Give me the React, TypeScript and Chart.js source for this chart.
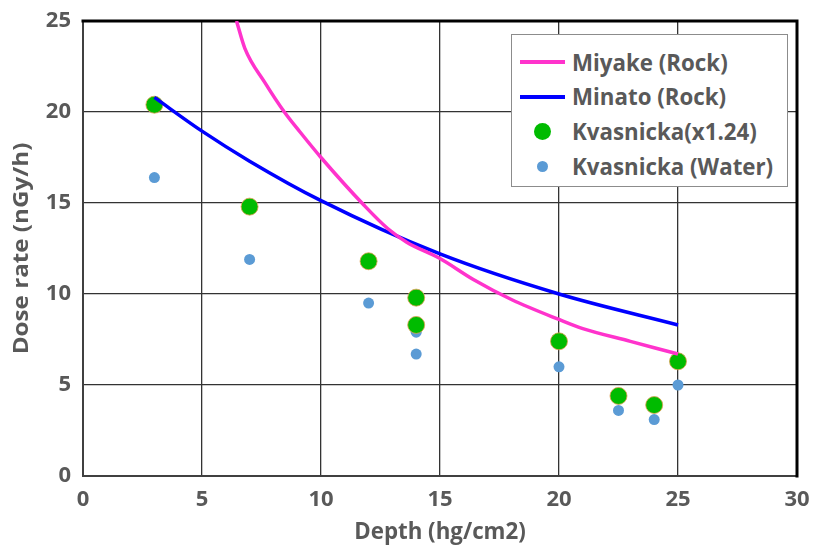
import React, { useEffect, useRef } from "react";
import { Chart, registerables } from "chart.js";

Chart.register(...registerables);

// Data
const miyakeX = [6.45, 6.8, 7.65, 8.46, 9.12, 10, 11.82, 12.8, 13.6, 15, 16.4, 18, 20, 21, 23, 25];
const miyakeY = [25, 23.5, 21.6, 20.0, 18.9, 17.5, 14.86, 13.6, 12.85, 11.95, 10.8, 9.7, 8.6, 8.1, 7.4, 6.7];

const minatoX = [3, 5, 7, 10, 15, 20, 25];
const minatoY = [20.8, 18.95, 17.3, 15.13, 12.2, 10.0, 8.3];

const kvasX = [3, 7, 12, 14, 14, 20, 22.5, 24, 25];
const kvasScaledY = [20.4, 14.8, 11.8, 9.8, 8.3, 7.4, 4.4, 3.9, 6.3];
const kvasWaterY = [16.4, 11.9, 9.5, 7.9, 6.7, 6.0, 3.6, 3.1, 5.0];

const xTicks = [0, 5, 10, 15, 20, 25, 30];
const yTicks = [0, 5, 10, 15, 20, 25];

const seriesNames = ["Miyake (Rock)", "Minato (Rock)", "Kvasnicka(x1.24)", "Kvasnicka (Water)"];
const xTitle = "Depth (hg/cm2)";
const yTitle = "Dose rate (nGy/h)";

const FONT = "'Open Sans', 'DejaVu Sans', sans-serif";
const TEXT = "#595959";
const PINK = "#ff33cc";
const BLUE = "#0000ff";
const GREEN = "#00bb00";
const WATER = "#5b9bd5";

const pts = (xs: number[], ys: number[]) => xs.map((x, i) => ({ x, y: ys[i] }));

const framePlugin = {
  id: "frameBorder",
  beforeDatasetsDraw(chart: any) {
    const { ctx, chartArea } = chart;
    const { left, right, top, bottom } = chartArea;
    ctx.save();
    ctx.lineCap = "square";
    ctx.strokeStyle = "#404040";
    ctx.lineWidth = 2;
    ctx.beginPath();
    ctx.moveTo(left, top);
    ctx.lineTo(left, bottom);
    ctx.lineTo(right, bottom);
    ctx.stroke();
    ctx.strokeStyle = "#000000";
    ctx.lineWidth = 3;
    ctx.beginPath();
    ctx.moveTo(left, top);
    ctx.lineTo(right, top);
    ctx.lineTo(right, bottom);
    ctx.stroke();
    ctx.restore();
  },
  afterDraw(chart: any) {
    const { ctx, chartArea } = chart;
    ctx.save();
    ctx.translate(22, (chartArea.top + chartArea.bottom) / 2);
    ctx.rotate(-Math.PI / 2);
    ctx.scale(1.1, 1);
    ctx.font = `bold 22px ${FONT}`;
    ctx.fillStyle = TEXT;
    ctx.textAlign = "center";
    ctx.textBaseline = "middle";
    ctx.fillText(yTitle, 0, 0);
    ctx.restore();
  },
};

export default function App() {
  const ref = useRef<HTMLCanvasElement | null>(null);

  useEffect(() => {
    if (!ref.current) return;
    const chart = new Chart(ref.current, {
      type: "scatter",
      data: {
        datasets: [
          {
            label: seriesNames[0],
            data: pts(miyakeX, miyakeY),
            showLine: true,
            borderColor: PINK,
            borderWidth: 3.5,
            pointRadius: 0,
            cubicInterpolationMode: "monotone",
            order: 0,
          } as any,
          {
            label: seriesNames[1],
            data: pts(minatoX, minatoY),
            showLine: true,
            borderColor: BLUE,
            borderWidth: 3.5,
            pointRadius: 0,
            cubicInterpolationMode: "monotone",
            order: 1,
          } as any,
          {
            label: seriesNames[2],
            data: pts(kvasX, kvasScaledY),
            showLine: false,
            backgroundColor: GREEN,
            borderColor: "#e0a050",
            borderWidth: 0.8,
            pointRadius: 8.5,
            order: 2,
          },
          {
            label: seriesNames[3],
            data: pts(kvasX, kvasWaterY),
            showLine: false,
            backgroundColor: WATER,
            borderWidth: 0,
            pointRadius: 5.5,
            order: 3,
          },
        ],
      },
      options: {
        animation: false,
        responsive: false,
        maintainAspectRatio: false,
        events: [],
        layout: { padding: { left: 0, right: 16, top: 21, bottom: 0 } },
        plugins: { legend: { display: false }, tooltip: { enabled: false } },
        scales: {
          x: {
            type: "linear",
            min: 0,
            max: 30,
            afterBuildTicks: (s: any) => {
              s.ticks = xTicks.map((v) => ({ value: v }));
            },
            afterFit: (s: any) => {
              s.height = 70;
              s.paddingLeft = 0;
              s.paddingRight = 0;
            },
            grid: { color: "#333333", lineWidth: 1.3, drawTicks: false },
            border: { display: false },
            ticks: {
              color: TEXT,
              font: { family: FONT, size: 22, weight: "bold" },
              padding: 11,
              maxRotation: 0,
            },
            title: {
              display: true,
              text: xTitle,
              color: TEXT,
              font: { family: FONT, size: 22.3, weight: "bold" },
              padding: { top: 0, bottom: 0 },
            },
          },
          y: {
            type: "linear",
            min: 0,
            max: 25,
            afterBuildTicks: (s: any) => {
              s.ticks = yTicks.map((v) => ({ value: v }));
            },
            afterFit: (s: any) => {
              s.width = 83;
              s.paddingTop = 0;
              s.paddingBottom = 0;
            },
            grid: { color: "#333333", lineWidth: 1.3, drawTicks: false },
            border: { display: false },
            ticks: {
              color: TEXT,
              font: { family: FONT, size: 22, weight: "bold" },
              padding: 12,
            },
            title: { display: false },
          },
        },
      },
      plugins: [framePlugin],
    });
    return () => chart.destroy();
  }, []);

  const rowStyle: React.CSSProperties = {
    position: "absolute",
    left: 0,
    height: 34,
    display: "flex",
    alignItems: "center",
    fontFamily: FONT,
    fontWeight: 700,
    fontSize: 22.3,
    color: TEXT,
    whiteSpace: "nowrap",
  };
  const markerBox: React.CSSProperties = {
    width: 60,
    display: "flex",
    alignItems: "center",
    justifyContent: "center",
    flex: "none",
  };

  const markers = [
    <div style={{ width: 45, height: 4, background: PINK }} />,
    <div style={{ width: 45, height: 4, background: BLUE }} />,
    <div style={{ width: 17, height: 17, borderRadius: "50%", background: GREEN }} />,
    <div style={{ width: 11, height: 11, borderRadius: "50%", background: WATER }} />,
  ];

  return (
    <div style={{ position: "absolute", left: 0, top: 0, width: 813, height: 546, background: "#fff" }}>
      <canvas ref={ref} width={813} height={546} style={{ display: "block", width: 813, height: 546 }} />
      <div
        style={{
          position: "absolute",
          left: 511,
          top: 34,
          width: 275,
          height: 151,
          border: "1px solid #8c8c8c",
          background: "#fff",
        }}
      >
        {seriesNames.map((name, i) => (
          <div key={name} style={{ ...rowStyle, top: 10 + i * 34.7 }}>
            <div style={markerBox}>{markers[i]}</div>
            <span>{name}</span>
          </div>
        ))}
      </div>
    </div>
  );
}
